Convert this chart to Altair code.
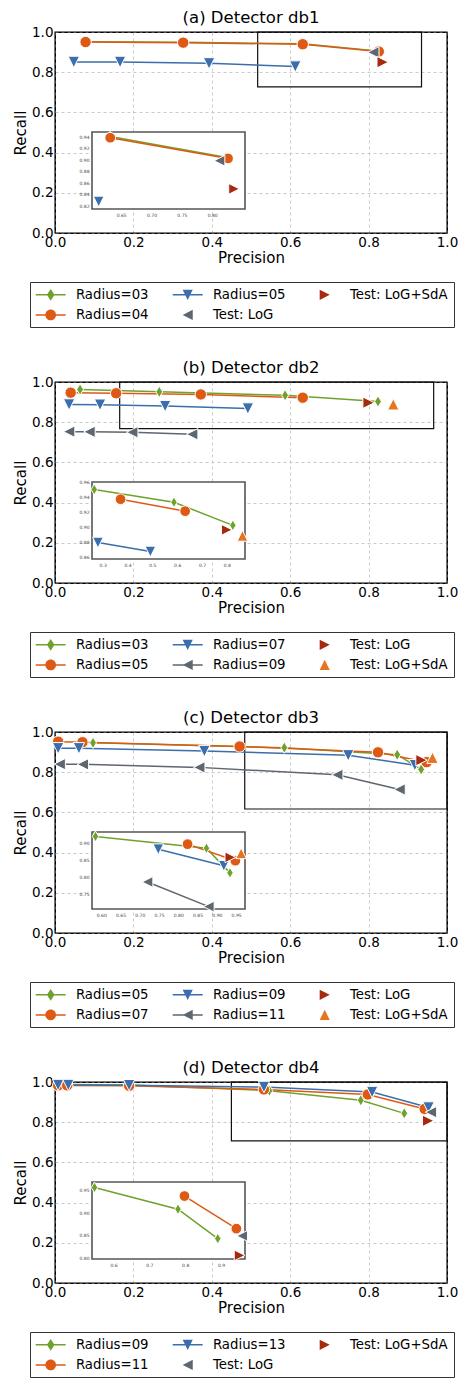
import altair as alt
import pandas as pd

FONT = "DejaVu Sans"
W, H = 392, 201
IX0, IX1, IY0, IY1 = 37, 190, 100, 177   # inset frame inside the plot area (px)

GREEN, ORANGE, BLUE, GRAY, DARKRED, ORANGE2 = "#6ea22c", "#de5a14", "#3b6ead", "#5e6670", "#a52a0e", "#e8731e"

# plot marker shapes (unit square)
P_DIAMOND = "M0,-1L0.6,0L0,1L-0.6,0Z"
P_TDOWN = "M-1,-1L1,-1L0,1Z"
P_TLEFT = "M1,-1L1,1L-1,0Z"
P_TRIGHT = "M-1,-1L1,0L-1,1Z"
P_TUP = "M0,-1L1,1L-1,1Z"
# legend handles (line + marker)
LINE = "M-2.2,-0.11H2.2V0.11H-2.2Z"
L_DIAMOND = LINE + "M0,-0.85L0.56,0L0,0.85L-0.56,0Z"
L_CIRCLE = LINE + "M0.78,0A0.78,0.78,0,1,1,-0.78,0A0.78,0.78,0,1,1,0.78,0Z"
L_TDOWN = LINE + "M-0.74,-0.74L0.74,-0.74L0,0.74Z"
L_TLEFT = LINE + "M0.74,-0.74L0.74,0.74L-0.74,0Z"
M_TLEFT = "M0.74,-0.74L0.74,0.74L-0.74,0Z"
M_TRIGHT = "M-0.74,-0.74L0.74,0L-0.74,0.74Z"
M_TUP = "M0,-0.74L0.74,0.74L-0.74,0.74Z"

STYLE = {
    "g": (GREEN, P_DIAMOND, L_DIAMOND, L_DIAMOND),
    "o": (ORANGE, "circle", L_CIRCLE, L_CIRCLE),
    "b": (BLUE, P_TDOWN, L_TDOWN, L_TDOWN),
    "k": (GRAY, P_TLEFT, L_TLEFT, M_TLEFT),
    "r": (DARKRED, P_TRIGHT, M_TRIGHT, M_TRIGHT),
    "u": (ORANGE2, P_TUP, M_TUP, M_TUP),
}

MAIN_TICKS = [0.0, 0.2, 0.4, 0.6, 0.8, 1.0]
MAIN_DOMAIN = [0.0, 1.0]

# ---------------- panel (a) ----------------
A_R03_X = [0.078, 0.327, 0.632, 0.822]
A_R03_Y = [0.952, 0.949, 0.941, 0.905]
A_R04_X = [0.078, 0.327, 0.632, 0.826]
A_R04_Y = [0.950, 0.947, 0.939, 0.903]
A_R05_X = [0.048, 0.166, 0.393, 0.613]
A_R05_Y = [0.851, 0.851, 0.844, 0.828]
A_LOG_X = [0.812]
A_LOG_Y = [0.899]
A_SDA_X = [0.836]
A_SDA_Y = [0.850]
A_INSET_X = [0.602, 0.854]
A_INSET_Y = [0.815, 0.949]
A_INSET_XT = [0.65, 0.70, 0.75, 0.80]
A_INSET_YT = [0.82, 0.84, 0.86, 0.88, 0.90, 0.92, 0.94]
A_ZOOM_X = [0.517, 0.935]
A_ZOOM_Y = [0.727, 1.0]

# ---------------- panel (b) ----------------
B_R03_X = [0.064, 0.266, 0.587, 0.824]
B_R03_Y = [0.963, 0.951, 0.934, 0.903]
B_R05_X = [0.040, 0.156, 0.372, 0.632]
B_R05_Y = [0.947, 0.944, 0.938, 0.922]
B_R07_X = [0.036, 0.115, 0.281, 0.492]
B_R07_Y = [0.888, 0.887, 0.880, 0.868]
B_R09_X = [0.036, 0.088, 0.197, 0.350]
B_R09_Y = [0.753, 0.752, 0.750, 0.740]
B_LOG_X = [0.800]
B_LOG_Y = [0.897]
B_SDA_X = [0.863]
B_SDA_Y = [0.889]
B_INSET_X = [0.257, 0.873]
B_INSET_Y = [0.858, 0.961]
B_INSET_XT = [0.3, 0.4, 0.5, 0.6, 0.7, 0.8]
B_INSET_YT = [0.86, 0.88, 0.90, 0.92, 0.94, 0.96]
B_ZOOM_X = [0.165, 0.966]
B_ZOOM_Y = [0.768, 1.0]

# ---------------- panel (c) ----------------
C_R05_X = [0.097, 0.585, 0.873, 0.934]
C_R05_Y = [0.946, 0.922, 0.887, 0.814]
C_R07_X = [0.008, 0.070, 0.471, 0.824, 0.948]
C_R07_Y = [0.952, 0.949, 0.928, 0.899, 0.850]
C_R09_X = [0.008, 0.061, 0.381, 0.748, 0.918]
C_R09_Y = [0.919, 0.919, 0.905, 0.884, 0.835]
C_R11_X = [0.012, 0.071, 0.368, 0.720, 0.879]
C_R11_Y = [0.840, 0.839, 0.824, 0.787, 0.714]
C_LOG_X = [0.935]
C_LOG_Y = [0.860]
C_SDA_X = [0.963]
C_SDA_Y = [0.872]
C_INSET_X = [0.576, 0.973]
C_INSET_Y = [0.707, 0.935]
C_INSET_XT = [0.60, 0.65, 0.70, 0.75, 0.80, 0.85, 0.90, 0.95]
C_INSET_YT = [0.75, 0.80, 0.85, 0.90]
C_ZOOM_X = [0.484, 1.0]
C_ZOOM_Y = [0.617, 1.0]

# ---------------- panel (d) ----------------
D_R09_X = [0.008, 0.031, 0.189, 0.547, 0.780, 0.891]
D_R09_Y = [0.987, 0.987, 0.985, 0.957, 0.909, 0.844]
D_R11_X = [0.008, 0.031, 0.189, 0.533, 0.798, 0.943]
D_R11_Y = [0.983, 0.983, 0.981, 0.963, 0.938, 0.866]
D_R13_X = [0.008, 0.034, 0.189, 0.533, 0.809, 0.953]
D_R13_Y = [0.985, 0.985, 0.984, 0.975, 0.950, 0.873]
D_LOG_X = [0.959]
D_LOG_Y = [0.850]
D_SDA_X = [0.952]
D_SDA_Y = [0.807]
D_INSET_X = [0.540, 0.967]
D_INSET_Y = [0.799, 0.969]
D_INSET_XT = [0.6, 0.7, 0.8, 0.9]
D_INSET_YT = [0.80, 0.85, 0.90, 0.95]
D_ZOOM_X = [0.45, 1.0]
D_ZOOM_Y = [0.707, 1.0]

LEG_S = 185


def build(title, series, inset_x, inset_y, ixt, iyt, ixfmt, iyfmt,
          zoom_x, zoom_y, inset_skip=()):
    rows = []
    for name, key, xs, ys, has_line in series:
        for i, (x, y) in enumerate(zip(xs, ys)):
            rows.append({"series": name, "x": x, "y": y, "line": has_line, "i": i})
    df = pd.DataFrame(rows)
    names = [s[0] for s in series]
    col_of = {s[0]: STYLE[s[1]][0] for s in series}
    shp_of = {s[0]: STYLE[s[1]][1] for s in series}
    leg_of = {s[0]: (STYLE[s[1]][2] if s[4] else STYLE[s[1]][3]) for s in series}

    color_sc = alt.Scale(domain=names, range=[col_of[n] for n in names])
    shape_sc = alt.Scale(domain=names, range=[shp_of[n] for n in names])

    # ---- main axes ----
    xs = alt.Scale(domain=MAIN_DOMAIN, nice=False, zero=False)
    ys = alt.Scale(domain=MAIN_DOMAIN, nice=False, zero=False)
    xax = alt.Axis(values=MAIN_TICKS, format=".1f", title="Precision", grid=True,
                   gridColor="#bdbdbd", gridDash=[3, 3], gridWidth=0.8, domain=False,
                   ticks=False, labelFontSize=13.5, labelPadding=2, labelFlush=False,
                   labelOverlap=False, titleFontSize=15, titlePadding=2)
    yax = alt.Axis(values=MAIN_TICKS, format=".1f", title="Recall", grid=True,
                   gridColor="#bdbdbd", gridDash=[3, 3], gridWidth=0.8, domain=False,
                   ticks=False, labelFontSize=13.5, labelPadding=2, labelFlush=False,
                   labelOverlap=False, titleFontSize=15, titlePadding=3)

    fdf = pd.DataFrame({"x0": [MAIN_DOMAIN[0]], "x1": [MAIN_DOMAIN[1]],
                        "y0": [MAIN_DOMAIN[0]], "y1": [MAIN_DOMAIN[1]]})
    frame = alt.Chart(fdf).mark_rect(fillOpacity=0, stroke="black", strokeWidth=1.1).encode(
        x=alt.X("x0:Q", scale=xs, axis=xax), x2="x1:Q",
        y=alt.Y("y0:Q", scale=ys, axis=yax), y2="y1:Q")
    zdf = pd.DataFrame({"x0": [zoom_x[0]], "x1": [zoom_x[1]], "y0": [zoom_y[0]], "y1": [zoom_y[1]]})
    zoom = alt.Chart(zdf).mark_rect(fillOpacity=0, stroke="#111", strokeWidth=1.2).encode(
        x=alt.X("x0:Q", scale=xs, axis=xax), x2="x1:Q",
        y=alt.Y("y0:Q", scale=ys, axis=yax), y2="y1:Q")
    lines = alt.Chart(df[df.line]).mark_line(strokeWidth=1.5).encode(
        x=alt.X("x:Q", scale=xs, axis=xax), y=alt.Y("y:Q", scale=ys, axis=yax),
        color=alt.Color("series:N", scale=color_sc, legend=None), order="i:Q")
    pts = alt.Chart(df).mark_point(filled=True, size=130, opacity=1, stroke="white",
                                   strokeWidth=1).encode(
        x=alt.X("x:Q", scale=xs, axis=xax), y=alt.Y("y:Q", scale=ys, axis=yax),
        color=alt.Color("series:N", scale=color_sc, legend=None),
        shape=alt.Shape("series:N", scale=shape_sc, legend=None))
    main = alt.layer(frame, zoom, lines, pts)

    # ---- inset ----
    ixs = alt.Scale(domain=inset_x, range=[IX0, IX1], nice=False, zero=False)
    iys = alt.Scale(domain=inset_y, range=[IY1, IY0], nice=False, zero=False)
    ixax = alt.Axis(orient="bottom", offset=IY1 - H, values=ixt, format=ixfmt, title=None,
                    grid=False, domain=False, ticks=False, labelFontSize=4.5,
                    labelColor="#444", labelPadding=3, labelFlush=False, labelOverlap=False)
    iyax = alt.Axis(orient="left", offset=-IX0, values=iyt, format=iyfmt, title=None,
                    grid=False, domain=False, ticks=False, labelFontSize=4.5,
                    labelColor="#444", labelPadding=3, labelFlush=False, labelOverlap=False)
    bdf = pd.DataFrame({"x0": [inset_x[0]], "x1": [inset_x[1]], "y0": [inset_y[0]], "y1": [inset_y[1]]})
    box = alt.Chart(bdf).mark_rect(fill="white", stroke="#555", strokeWidth=1.6).encode(
        x=alt.X("x0:Q", scale=ixs, axis=ixax), x2="x1:Q",
        y=alt.Y("y0:Q", scale=iys, axis=iyax), y2="y1:Q")
    idf = df[(df.x >= inset_x[0]) & (df.x <= inset_x[1]) & (df.y >= inset_y[0])
             & (df.y <= inset_y[1]) & (~df.series.isin(list(inset_skip)))]
    ilines = alt.Chart(idf[idf.line]).mark_line(strokeWidth=1.5).encode(
        x=alt.X("x:Q", scale=ixs, axis=ixax), y=alt.Y("y:Q", scale=iys, axis=iyax),
        color=alt.Color("series:N", scale=color_sc, legend=None), order="i:Q")
    ipts = alt.Chart(idf).mark_point(filled=True, size=115, opacity=1, stroke="white",
                                     strokeWidth=1).encode(
        x=alt.X("x:Q", scale=ixs, axis=ixax), y=alt.Y("y:Q", scale=iys, axis=iyax),
        color=alt.Color("series:N", scale=color_sc, legend=None),
        shape=alt.Shape("series:N", scale=shape_sc, legend=None))
    inset = alt.layer(box, ilines, ipts)

    # ---- legend (entries fill column by column) ----
    leg = alt.Legend(orient="none", legendX=-25, legendY=250, columns=3,
                     strokeColor="#333", fillColor="white", padding=5.5,
                     columnPadding=23, rowPadding=6.4, labelFont=FONT, labelFontSize=13.3,
                     labelColor="black", symbolSize=LEG_S, symbolOffset=8.2,
                     labelOffset=18.2, symbolStrokeWidth=0, labelLimit=300)
    ldf = pd.DataFrame({"series": names})
    lg = alt.Chart(ldf).transform_filter("false").mark_point(
        filled=True, opacity=1, size=LEG_S).encode(
        color=alt.Color("series:N", title=None,
                        scale=alt.Scale(domain=names, range=[col_of[n] for n in names]),
                        legend=leg),
        shape=alt.Shape("series:N", title=None,
                        scale=alt.Scale(domain=names, range=[leg_of[n] for n in names]),
                        legend=leg))

    return alt.layer(main, inset, lg).resolve_scale(
        x="independent", y="independent", color="independent", shape="independent"
    ).properties(width=W, height=H, title=alt.TitleParams(title, fontSize=16.5, font=FONT,
                                                          fontWeight="normal", anchor="middle",
                                                          color="black", offset=-1))


pa = build("(a) Detector db1", [
    ("Radius=03", "g", A_R03_X, A_R03_Y, True),
    ("Radius=04", "o", A_R04_X, A_R04_Y, True),
    ("Radius=05", "b", A_R05_X, A_R05_Y, True),
    ("Test: LoG", "k", A_LOG_X, A_LOG_Y, False),
    ("Test: LoG+SdA", "r", A_SDA_X, A_SDA_Y, False),
], A_INSET_X, A_INSET_Y, A_INSET_XT, A_INSET_YT, ".2f", ".2f", A_ZOOM_X, A_ZOOM_Y)

pb = build("(b) Detector db2", [
    ("Radius=03", "g", B_R03_X, B_R03_Y, True),
    ("Radius=05", "o", B_R05_X, B_R05_Y, True),
    ("Radius=07", "b", B_R07_X, B_R07_Y, True),
    ("Radius=09", "k", B_R09_X, B_R09_Y, True),
    ("Test: LoG", "r", B_LOG_X, B_LOG_Y, False),
    ("Test: LoG+SdA", "u", B_SDA_X, B_SDA_Y, False),
], B_INSET_X, B_INSET_Y, B_INSET_XT, B_INSET_YT, ".1f", ".2f", B_ZOOM_X, B_ZOOM_Y)

pc = build("(c) Detector db3", [
    ("Radius=05", "g", C_R05_X, C_R05_Y, True),
    ("Radius=07", "o", C_R07_X, C_R07_Y, True),
    ("Radius=09", "b", C_R09_X, C_R09_Y, True),
    ("Radius=11", "k", C_R11_X, C_R11_Y, True),
    ("Test: LoG", "r", C_LOG_X, C_LOG_Y, False),
    ("Test: LoG+SdA", "u", C_SDA_X, C_SDA_Y, False),
], C_INSET_X, C_INSET_Y, C_INSET_XT, C_INSET_YT, ".2f", ".2f", C_ZOOM_X, C_ZOOM_Y)

pd_ = build("(d) Detector db4", [
    ("Radius=09", "g", D_R09_X, D_R09_Y, True),
    ("Radius=11", "o", D_R11_X, D_R11_Y, True),
    ("Radius=13", "b", D_R13_X, D_R13_Y, True),
    ("Test: LoG", "k", D_LOG_X, D_LOG_Y, False),
    ("Test: LoG+SdA", "r", D_SDA_X, D_SDA_Y, False),
], D_INSET_X, D_INSET_Y, D_INSET_XT, D_INSET_YT, ".1f", ".2f", D_ZOOM_X, D_ZOOM_Y,
    inset_skip=("Radius=13",))

chart = alt.vconcat(pa, pb, pc, pd_, spacing=31).properties(
    padding={"left": 5, "top": 1, "right": 0, "bottom": 0}
).configure_view(stroke="black", strokeWidth=1).configure_axis(
    labelFont=FONT, titleFont=FONT, labelColor="black", titleColor="black",
    titleFontWeight="normal"
).configure_legend(labelFont=FONT)

chart.save("out.html", embed_options={"renderer": "svg", "actions": False})
